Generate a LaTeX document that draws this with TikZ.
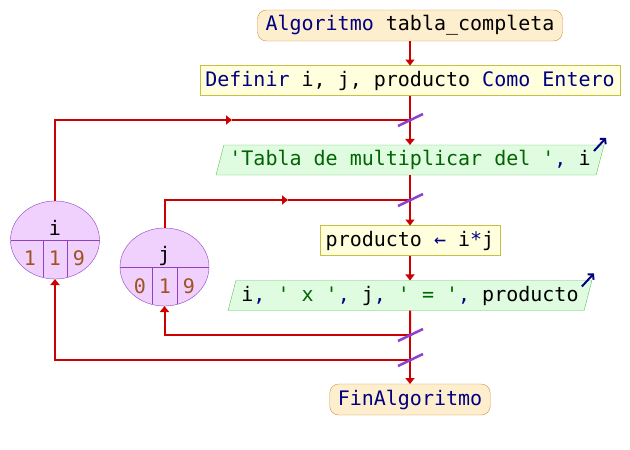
\documentclass[tikz,border=0pt]{standalone}
\usepackage{fontspec}
\setmonofont{DejaVu Sans Mono}
\usetikzlibrary{shapes.geometric,arrows.meta}

\definecolor{rojo}{RGB}{204,0,0}
\definecolor{azul}{RGB}{0,0,128}
\definecolor{verde}{RGB}{0,100,0}
\definecolor{cafe}{RGB}{160,82,35}
\definecolor{naranja}{RGB}{253,238,205}
\definecolor{naranjaborde}{RGB}{208,144,64}
\definecolor{amarillo}{RGB}{255,255,221}
\definecolor{amarilloborde}{RGB}{200,192,64}
\definecolor{verdeclaro}{RGB}{224,252,224}
\definecolor{verdeborde}{RGB}{96,192,96}
\definecolor{morado}{RGB}{240,208,252}
\definecolor{moradoborde}{RGB}{144,64,192}
\definecolor{corte}{RGB}{144,64,208}

\newcommand{\pal}[1]{\textcolor{azul}{#1}}
\newcommand{\cad}[1]{\textcolor{verde}{#1}}

\begin{document}
\begin{tikzpicture}[x=1pt,y=-1pt,
    inicio/.style={draw=naranjaborde,fill=naranja,rounded corners=9pt,minimum height=31pt,inner xsep=8pt},
    accion/.style={draw=amarilloborde,fill=amarillo,minimum height=30pt,inner xsep=5.5pt},
    salida/.style={trapezium,trapezium left angle=68,trapezium right angle=112,trapezium stretches body=true,draw=verdeborde,fill=verdeclaro,minimum height=30pt,inner xsep=5.5pt},
    contador/.style={ellipse,draw=moradoborde,fill=morado,minimum width=89pt,minimum height=78pt,inner sep=0pt},
    division/.style={draw=moradoborde,line width=1pt},
    linea/.style={draw=rojo,line width=2pt},
    marca/.style={draw=corte,line width=2.5pt},
    icono/.style={draw=azul,line width=2pt,-{Straight Barb[length=3.5pt,width=8pt]}}]

\useasboundingbox (0,0) rectangle (630,450);

\begin{scope}[every node/.style={font=\ttfamily\fontsize{20}{24}\selectfont,inner ysep=0pt,outer sep=0pt}]
    \node[inicio] (INI) at (410,25.5) {\pal{Algoritmo} tabla\_completa};
    \node[accion] (DEF) at (410,80.5) {\pal{Definir} i, j, producto \pal{Como Entero}};
    \node[salida] (SAL1) at (410,160) {\cad{'Tabla de multiplicar del '}\pal{,} i};
    \node[accion] (PROD) at (410,240.5) {producto \pal{←} i\pal{*}j};
    \node[salida] (SAL2) at (410,295.5) {i\pal{,} \cad{' x '}\pal{,} j\pal{,} \cad{' = '}\pal{,} producto};
    \node[inicio] (FIN) at (410,399.5) {\pal{FinAlgoritmo}};
    % contadores
    \node[contador] (VI) at (55,240) {};
    \node[contador] (VJ) at (164.5,267) {};
    \node[anchor=base] (NI) at (55,235) {i};
    \node[anchor=base,text=cafe] (I1) at (30,265) {1};
    \node[anchor=base,text=cafe] (I2) at (55,265) {1};
    \node[anchor=base,text=cafe] (I3) at (79,265) {9};
    \node[anchor=base] (NJ) at (164.5,261) {j};
    \node[anchor=base,text=cafe] (J1V) at (140,293) {0};
    \node[anchor=base,text=cafe] (J2V) at (165,293) {1};
    \node[anchor=base,text=cafe] (J3V) at (189,293) {9};
\end{scope}

\foreach \v in {VI,VJ}{
    \draw[division] (\v.west) -- (\v.east);
    \draw[division] ([xshift=-12pt]\v.center) -- ++(0,37);
    \draw[division] ([xshift=12.5pt]\v.center) -- ++(0,37);
}

\coordinate (J1) at (410,120);
\coordinate (J2) at (410,200);
\coordinate (J3) at (410,335);
\coordinate (J4) at (410,360);
\coordinate (FI) at (232,120);
\coordinate (FJ) at (288,200);

\begin{scope}[>={Triangle[length=6pt,width=9pt]},
              every edge/.style={draw=rojo,line width=2pt}]
    % flujo principal
    \path [->] (INI) edge (DEF);
    \path (DEF) edge (J1);
    \path [->] (J1) edge (SAL1);
    \path (SAL1) edge (J2);
    \path [->] (J2) edge (PROD);
    \path [->] (PROD) edge (SAL2);
    \path (SAL2) edge (J3);
    \path (J3) edge (J4);
    \path [->] (J4) edge (FIN);
    % ciclo i
    \draw[linea,->] (VI.north) |- (FI);
    \draw[linea] (FI) -- (J1);
    \draw[linea,->] (J4) -| (VI.south);
    % ciclo j
    \draw[linea,->] (VJ.north) |- (FJ);
    \draw[linea] (FJ) -- (J2);
    \draw[linea,->] (J3) -| (VJ.south);
\end{scope}

\foreach \j in {J1,J2,J3,J4}
    \draw[marca] ([shift={(-12,6)}]\j) -- ([shift={(13,-6)}]\j);

\draw[icono] ([shift={(-10,6)}]SAL1.top right corner) -- ++(12,-13);
\draw[icono] ([shift={(-10,6)}]SAL2.top right corner) -- ++(12,-13);
\end{tikzpicture}
\end{document}
